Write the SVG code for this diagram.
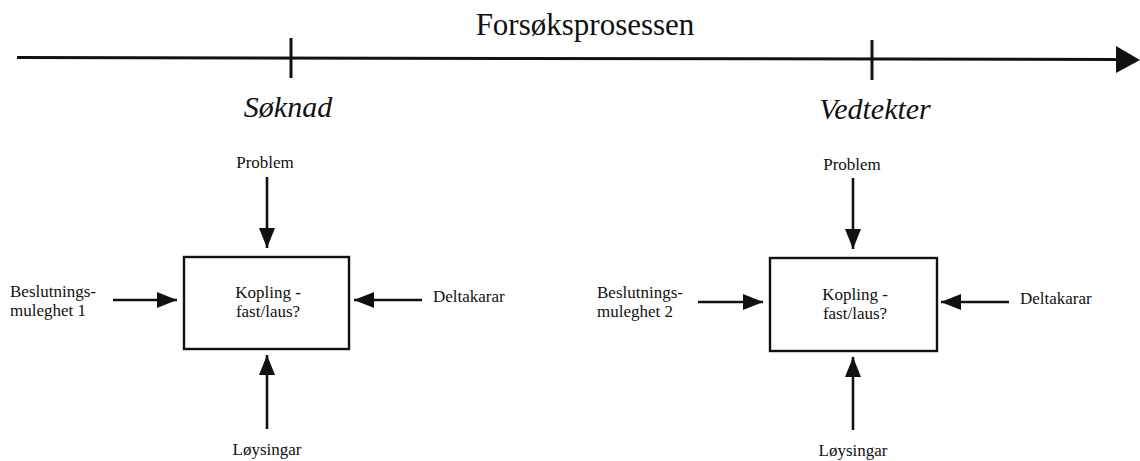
<svg xmlns="http://www.w3.org/2000/svg" width="1140" height="461" viewBox="0 0 1140 461">
<style>
  text { font-family: "Liberation Serif", "Times New Roman", serif; fill: #111; }
  .lbl { font-size: 17px; }
  .ital { font-size: 30px; font-style: italic; }
  .title { font-size: 31px; }
  .conn { stroke: #111; stroke-width: 2.6; fill: none; marker-end: url(#ah); }
  .box { fill: #fff; stroke: #111; stroke-width: 2.4; }
  .axis { stroke: #111; stroke-width: 3; fill: none; }
</style>
<defs>
  <marker id="ah" viewBox="0 0 20 16" markerUnits="userSpaceOnUse" markerWidth="20" markerHeight="16" refX="20" refY="8" orient="auto">
    <path d="M0,0 L20,8 L0,16 Z" fill="#111"/>
  </marker>
</defs>
<rect width="1140" height="461" fill="#fff"/>

<g id="timeline">
  <line class="axis" x1="17" y1="57.5" x2="1120" y2="59.5"/>
  <polygon points="1116,46 1140,60 1116,73" fill="#111"/>
  <line class="axis" x1="291" y1="38" x2="291" y2="78"/>
  <line class="axis" x1="872" y1="40" x2="872" y2="80"/>
  <text class="title" x="585" y="35" text-anchor="middle">Forsøksprosessen</text>
  <text class="ital" x="288" y="117" text-anchor="middle">Søknad</text>
  <text class="ital" x="875" y="119" text-anchor="middle">Vedtekter</text>
</g>

<g id="connectors">
  <line class="conn" x1="267" y1="177" x2="267" y2="248"/>
  <line class="conn" x1="113" y1="300" x2="177" y2="300"/>
  <line class="conn" x1="422" y1="300" x2="354" y2="300"/>
  <line class="conn" x1="267" y1="429" x2="267" y2="355"/>
  <line class="conn" x1="853" y1="178" x2="853" y2="249"/>
  <line class="conn" x1="698" y1="302" x2="763" y2="302"/>
  <line class="conn" x1="1009" y1="302" x2="941" y2="302"/>
  <line class="conn" x1="853" y1="430" x2="853" y2="357"/>
</g>

<g id="problem1"><text class="lbl" x="265" y="168" text-anchor="middle">Problem</text></g>
<g id="kopling1">
  <rect class="box" x="184" y="257" width="165" height="92"/>
  <text class="lbl" x="268" y="298" text-anchor="middle">Kopling -</text>
  <text class="lbl" x="268" y="317" text-anchor="middle">fast/laus?</text>
</g>
<g id="beslutning1">
  <text class="lbl" x="10" y="297">Beslutnings-</text>
  <text class="lbl" x="10" y="316">muleghet 1</text>
</g>
<g id="deltakarar1"><text class="lbl" x="433" y="302">Deltakarar</text></g>
<g id="loysingar1"><text class="lbl" x="267" y="455" text-anchor="middle">Løysingar</text></g>

<g id="problem2"><text class="lbl" x="852" y="170" text-anchor="middle">Problem</text></g>
<g id="kopling2">
  <rect class="box" x="770" y="258" width="167" height="93"/>
  <text class="lbl" x="855" y="300" text-anchor="middle">Kopling -</text>
  <text class="lbl" x="855" y="319" text-anchor="middle">fast/laus?</text>
</g>
<g id="beslutning2">
  <text class="lbl" x="597" y="298">Beslutnings-</text>
  <text class="lbl" x="597" y="317">muleghet 2</text>
</g>
<g id="deltakarar2"><text class="lbl" x="1020" y="304">Deltakarar</text></g>
<g id="loysingar2"><text class="lbl" x="853" y="456" text-anchor="middle">Løysingar</text></g>
</svg>
